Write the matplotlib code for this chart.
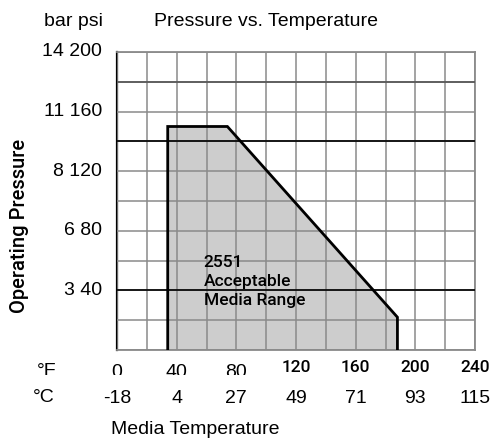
import matplotlib
matplotlib.use("Agg")
import matplotlib.pyplot as plt
from matplotlib.transforms import Bbox, TransformedBbox

# envelope of acceptable media range (deg F vs psi)
temp_f = [34, 34, 74, 188, 188]
press_psi = [0, 150, 150, 22, 0]

f_ticks = [0, 40, 80, 120, 160, 200, 240]
c_labels = ["-18", "4", "27", "49", "71", "93", "115"]
psi_ticks = [40, 80, 120, 160, 200]
bar_psi_labels = ["3 40", "6 80", "8 120", "11 160", "14 200"]
dark_psi = [40, 140]
mid_psi = [180]

arial = ["Liberation Sans", "DejaVu Sans"]
narrow = ["Roboto", "DejaVu Sans"]
fs = 14

fig = plt.figure(figsize=(4.95, 4.41), dpi=100)
ax = fig.add_axes([117 / 495, 1 - 350 / 441, 358 / 495, 298 / 441])

ax.set_xlim(0, 240)
ax.set_ylim(0, 200)
ax.set_xticks(range(0, 241, 20))
ax.set_yticks(range(0, 201, 20))
ax.tick_params(length=0, labelbottom=False, labelleft=False)
ax.set_axisbelow(False)
ax.grid(True, color="#8a8a8a", lw=1.1, zorder=2)

ax.fill(temp_f, press_psi, facecolor="#cdcdcd", edgecolor="none", zorder=1)
ax.plot(temp_f, press_psi, color="black", lw=2, zorder=4, solid_joinstyle="miter")
for p in dark_psi:
    ax.axhline(p, color="black", lw=1.2, zorder=3)
for p in mid_psi:
    ax.axhline(p, color="#555555", lw=1.2, zorder=3)

for s in ["top", "right", "bottom"]:
    ax.spines[s].set_color("#8a8a8a")
    ax.spines[s].set_linewidth(1.3)
ax.spines["left"].set_color("black")
ax.spines["left"].set_linewidth(1.6)

ax.text(58, 46, "2551\nAcceptable\nMedia Range", family=narrow, fontsize=12.5,
        fontweight="medium", linespacing=1.3, va="center", ha="left", zorder=5)

# y labels (bar / psi)
for v, lab in zip(psi_ticks, bar_psi_labels):
    ax.text(-10, v, lab, transform=ax.transData, ha="right", va="center",
            family=arial, fontsize=fs)

# x labels: deg F row (first few clipped like the scan) and deg C row
clip = TransformedBbox(Bbox([[0, 66 / 441], [1, 1]]), fig.transFigure)
xt = ax.get_xaxis_transform()
for v in f_ticks:
    if v <= 80:
        t = ax.text(v, -0.075, str(v), transform=xt, ha="center", va="center",
                    family=arial, fontsize=fs, clip_on=True)
        t.set_clip_box(clip)
    else:
        ax.text(v, -0.06, str(v), transform=xt, ha="center", va="center",
                family=narrow, fontsize=12.5, fontweight="medium")
t = fig.text(56 / 495, 1 - 372 / 441, "°F", ha="right", va="center",
             family=arial, fontsize=fs, clip_on=True)
t.set_clip_box(clip)

for v, lab in zip(f_ticks, c_labels):
    ax.text(v, -0.162, lab, transform=xt, ha="center", va="center",
            family=arial, fontsize=fs)
fig.text(44 / 495, 1 - 398 / 441, "°C", ha="center", va="center",
         family=arial, fontsize=fs)

fig.text(195 / 495, 1 - 430 / 441, "Media Temperature", ha="center",
         va="center", family=arial, fontsize=fs)
fig.text(266 / 495, 1 - 22 / 441, "Pressure vs. Temperature", ha="center",
         va="center", family=arial, fontsize=fs)
fig.text(73 / 495, 1 - 22 / 441, "bar psi", ha="center", va="center",
         family=arial, fontsize=fs)
fig.text(20 / 495, 1 - 226 / 441, "Operating Pressure", rotation=90,
         ha="center", va="center", family=narrow, fontsize=14.5,
         fontweight="medium")

fig.savefig("out.png", dpi=100)
